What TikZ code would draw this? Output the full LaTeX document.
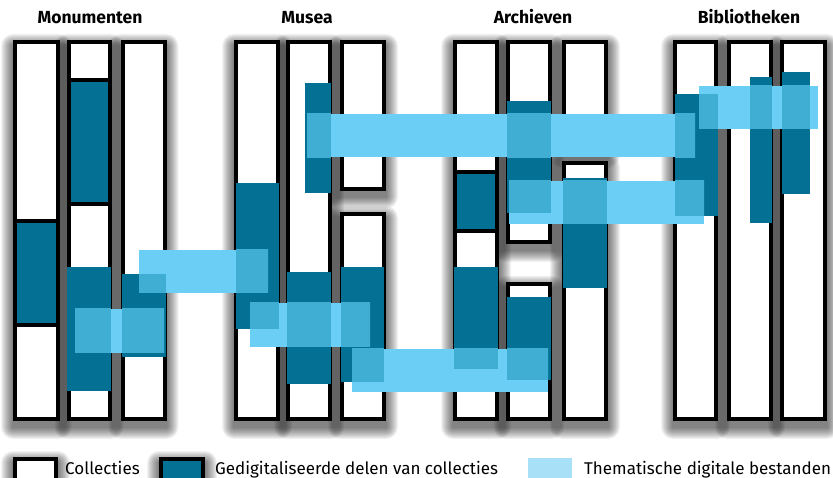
\documentclass[tikz,border=0pt]{standalone}
\usepackage{fontspec}
\setmainfont{Fira Sans}

\definecolor{tealfill}{RGB}{3,112,148}
\definecolor{themefill}{RGB}{107,207,245}
\definecolor{mixfill}{RGB}{64,173,211}
\definecolor{keyfill}{RGB}{168,224,248}

% outer edge of a collection column: x1,y1,x2,y2 (border drawn inside)
\newcommand\colbox[4]{\draw[colframe] ({#1+2},{#2+2}) rectangle ({#3-2},{#4-2});}
% soft shadow: stacked translucent layers, offset downwards
\newcommand\colshade[4]{%
  \foreach \k in {1,...,12}{%
    \fill[shadelayer,rounded corners=\k pt] ({#1-\k},{#2-\k+6}) rectangle ({#3+\k},{#4+\k+6});}}

\begin{document}
\begin{tikzpicture}[x=1pt,y=-1pt,
  colframe/.style={draw=black,line width=4pt,fill=white},
  shadelayer/.style={fill=black,fill opacity=0.05},
  divider/.style={draw=black,line width=4pt},
  digi/.style={fill=tealfill},
  theme/.style={fill=themefill},
  mix/.style={fill=mixfill},
  grouptitle/.style={anchor=base,font=\bfseries\fontsize{17.5}{20}\selectfont},
  keytext/.style={anchor=base west,inner sep=0pt,font=\fontsize{17}{19}\selectfont}]
\useasboundingbox (0,0) rectangle (833,478);
\clip (0,0) rectangle (833,478);
\fill[white] (0,0) rectangle (833,478);

% group titles
\node[grouptitle] (tmon) at (90,24) {Monumenten};
\node[grouptitle] (tmus) at (307,24) {Musea};
\node[grouptitle] (tarc) at (533,24) {Archieven};
\node[grouptitle] (tbib) at (749,24) {Bibliotheken};

% shadows of all columns first
\foreach \a/\b/\c/\d in {13/40/59.5/421, 66.5/40/111.5/421, 120.5/40/166.5/421,
    234/40/280/421, 286/40/332/421, 340/40/386/190.7, 340/212/386/421,
    453/40/499/421, 505.5/40/552/244, 505.5/282/552/421, 562/40/608/150, 562/161/608/421,
    673/40/718/421, 727/40/773/421, 780/40/827/421,
    13/457/58/482, 159/457/205/482}
  {\colshade{\a}{\b}{\c}{\d}}

% collection columns
\foreach \a/\b/\c/\d in {13/40/59.5/421, 66.5/40/111.5/421, 120.5/40/166.5/421,
    234/40/280/421, 286/40/332/421, 340/40/386/190.7, 340/212/386/421,
    453/40/499/421, 505.5/40/552/244, 505.5/282/552/421, 562/40/608/150, 562/161/608/421,
    673/40/718/421, 727/40/773/421, 780/40/827/421}
  {\colbox{\a}{\b}{\c}{\d}}

% digitised parts set off by rules
\fill[digi] (17,223) rectangle (55.5,323);
\draw[divider] (13,221) -- (59.5,221);
\draw[divider] (13,325) -- (59.5,325);
\fill[digi] (70.5,82) rectangle (107.5,202);
\draw[divider] (66.5,80) -- (111.5,80);
\draw[divider] (66.5,204) -- (111.5,204);
\fill[digi] (457,174) rectangle (495,230);
\draw[divider] (453,172) -- (499,172);
\draw[divider] (453,231.5) -- (499,231.5);

% digitised parts
\foreach \a/\b/\c/\d in {67/267/111/391, 122/274/166/357, 236/183/279/329,
    305/83/331/193, 287/272/331/384, 341/267/384/382, 454/267/498/369,
    507/101/551/213, 507/297/551/380, 563/178/607/288, 675/94/718/216,
    750/77/772/223, 782/72/810/194}
  {\fill[digi] (\a,\b) rectangle (\c,\d);}

% thematic digital files
\foreach \a/\b/\c/\d in {75/309/164/353, 139/250/268/293, 250/303/370/347,
    307/114/695/157.5, 352/349/548/392, 509/181/704/224, 699/86/818/129}
  {\fill[theme] (\a,\b) rectangle (\c,\d);
   \begin{scope}
     \clip (\a,\b) rectangle (\c,\d);
     \foreach \e/\f/\g/\h in {67/267/111/391, 122/274/166/357, 236/183/279/329,
         305/83/331/193, 287/272/331/384, 341/267/384/382, 454/267/498/369,
         507/101/551/213, 507/297/551/380, 563/178/607/288, 675/94/718/216,
         750/77/772/223, 782/72/810/194}
       {\fill[mix] (\e,\f) rectangle (\g,\h);}
   \end{scope}}

% legend
\draw[colframe] (15,459) rectangle (56,480);
\node[keytext] (kcol) at (65,474.5) {Collecties};
\draw[colframe,fill=tealfill] (161,459) rectangle (203,480);
\node[keytext] (kdig) at (215,474.5) {Gedigitaliseerde delen van collecties};
\fill[keyfill] (528,458) rectangle (572,480);
\node[keytext] (kthe) at (584,474.5) {Thematische digitale bestanden};
\end{tikzpicture}
\end{document}
